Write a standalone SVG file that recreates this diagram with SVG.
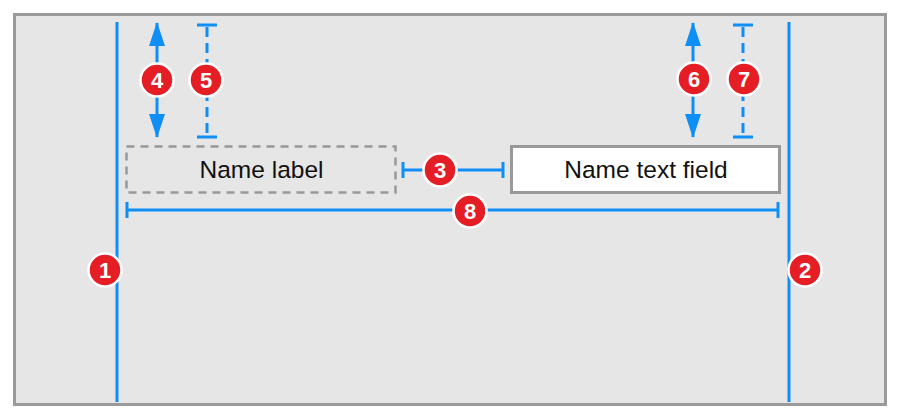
<svg xmlns="http://www.w3.org/2000/svg" width="900" height="420" viewBox="0 0 900 420">
<style>
.blue{stroke:#0f8ef5;stroke-width:3;fill:none}
.dash{stroke:#0f8ef5;stroke-width:3;fill:none;stroke-dasharray:10,6}
.badge circle{fill:#e51e25;stroke:#fff;stroke-width:2.5}
.badge text{fill:#fff;font-family:"Liberation Sans",Arial,sans-serif;font-weight:bold;font-size:22px;text-anchor:middle}
.lbl{font-family:"Liberation Sans",Arial,sans-serif;font-size:24.5px;fill:#111;text-anchor:middle}
</style>
<defs>
<marker id="ah" viewBox="0 0 24 16" refX="23" refY="8" markerWidth="24" markerHeight="16" markerUnits="userSpaceOnUse" orient="auto">
<path d="M0,0 L24,8 L0,16 Z" fill="#0f8ef5"/>
</marker>
</defs>
<rect id="frame" x="14.5" y="14.5" width="871" height="390" fill="#e6e6e6" stroke="#9a9a9a" stroke-width="3"/>
<g id="nameLabel">
<rect x="126.5" y="146.5" width="269" height="46" fill="none" stroke="#999" stroke-width="2.5" stroke-dasharray="8,6"/>
<text class="lbl" x="261.5" y="177.5">Name label</text>
</g>
<g id="nameTextField">
<rect x="511.5" y="146.5" width="268" height="46" fill="#fff" stroke="#999" stroke-width="3"/>
<text class="lbl" x="646" y="177.5">Name text field</text>
</g>
<g id="connectors">
<line class="blue" x1="117" y1="22" x2="117" y2="402"/>
<line class="blue" x1="789" y1="22" x2="789" y2="402"/>
<line class="blue" x1="157" y1="80" x2="157" y2="23" marker-end="url(#ah)"/>
<line class="blue" x1="157" y1="80" x2="157" y2="137" marker-end="url(#ah)"/>
<line class="dash" x1="207" y1="27" x2="207" y2="136"/>
<line class="blue" x1="197" y1="25" x2="217" y2="25"/>
<line class="blue" x1="197" y1="137" x2="217" y2="137"/>
<line class="blue" x1="693" y1="80" x2="693" y2="23" marker-end="url(#ah)"/>
<line class="blue" x1="693" y1="80" x2="693" y2="137" marker-end="url(#ah)"/>
<line class="dash" x1="743" y1="27" x2="743" y2="136"/>
<line class="blue" x1="733" y1="25" x2="753" y2="25"/>
<line class="blue" x1="733" y1="137" x2="753" y2="137"/>
<line class="blue" x1="403" y1="170" x2="503" y2="170"/>
<line class="blue" x1="403" y1="162" x2="403" y2="178"/>
<line class="blue" x1="503" y1="162" x2="503" y2="178"/>
<line class="blue" x1="127" y1="210" x2="778" y2="210"/>
<line class="blue" x1="127" y1="202" x2="127" y2="218"/>
<line class="blue" x1="778" y1="202" x2="778" y2="218"/>
</g>
<g id="badge1" class="badge"><circle cx="105" cy="270" r="16.5"/><text x="105" y="278">1</text></g>
<g id="badge2" class="badge"><circle cx="805" cy="270" r="16.5"/><text x="805" y="278">2</text></g>
<g id="badge3" class="badge"><circle cx="440" cy="170" r="16.5"/><text x="440" y="178">3</text></g>
<g id="badge4" class="badge"><circle cx="157" cy="80" r="16.5"/><text x="157" y="88">4</text></g>
<g id="badge5" class="badge"><circle cx="206" cy="80" r="16.5"/><text x="206" y="88">5</text></g>
<g id="badge6" class="badge"><circle cx="694" cy="79" r="16.5"/><text x="694" y="87">6</text></g>
<g id="badge7" class="badge"><circle cx="744" cy="79" r="16.5"/><text x="744" y="87">7</text></g>
<g id="badge8" class="badge"><circle cx="470" cy="211" r="16.5"/><text x="470" y="219">8</text></g>
</svg>
